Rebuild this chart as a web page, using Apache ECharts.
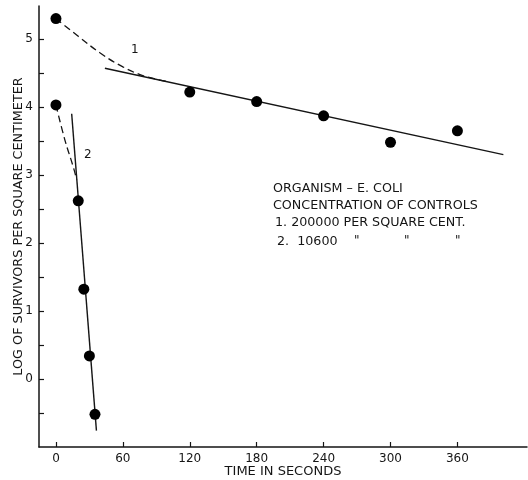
<!DOCTYPE html>
<html>
<head>
<meta charset="utf-8">
<script src="https://cdn.jsdelivr.net/npm/echarts@6/dist/echarts.min.js"></script>
<style>html,body{margin:0;padding:0;background:#fff;}#c{width:528px;height:480px;}</style>
</head>
<body>
<div id="c"></div>
<script>
// Data
var times1 = [0, 120, 180, 240, 300, 360];
var logs1 = [5.30, 4.22, 4.08, 3.87, 3.48, 3.65];
var times2 = [0, 20, 25, 30, 35];
var logs2 = [4.03, 2.62, 1.32, 0.34, -0.52];
var fit1X = [43.9, 401.2];
var fit1Y = [4.57, 3.30];
var fit2X = [14.1, 36.3];
var fit2Y = [3.90, -0.76];
var curve1X = [0, 20, 40, 60, 80, 99];
var curve1Y = [5.30, 5.04, 4.79, 4.59, 4.45, 4.38];
var curve2X = [0, 8.1, 15.5, 18.6];
var curve2Y = [4.03, 3.51, 3.12, 2.93];
var xTicks = [0, 60, 120, 180, 240, 300, 360];
var yLabels = [0, 1, 2, 3, 4, 5];
var yTicks = [-0.5, 0, 0.5, 1, 1.5, 2, 2.5, 3, 3.5, 4, 4.5, 5];
var noteLines = ['ORGANISM \u2013 E. COLI', 'CONCENTRATION OF CONTROLS', '1. 200000 PER SQUARE CENT.', '2.  10600'];
var ditto = '"';

function pairs(xs, ys) { return xs.map(function (x, i) { return [x, ys[i]]; }); }

var ink = '#151515';
var font = 'DejaVu Sans';
var chart = echarts.init(document.getElementById('c'));

var graphics = [];
var noteTop = [188, 205, 222, 241];
var noteLeft = [273, 273, 275, 277];
noteLines.forEach(function (t, i) {
  graphics.push({ type: 'text', x: noteLeft[i], y: noteTop[i] - 6,
    style: { text: t, fill: ink, font: '12.7px "' + font + '"' } });
});
[357, 407, 458].forEach(function (x) {
  graphics.push({ type: 'text', x: x - 3, y: 235, style: { text: ditto, fill: ink, font: '12px "' + font + '"' } });
});
graphics.push({ type: 'text', x: 131, y: 44, style: { text: '1', fill: ink, font: '12px "' + font + '"' } });
graphics.push({ type: 'text', x: 84, y: 149, style: { text: '2', fill: ink, font: '12px "' + font + '"' } });

chart.setOption({
  backgroundColor: '#fff',
  animation: false,
  grid: { left: 39, right: 1, top: 6, bottom: 33, containLabel: false, outerBoundsMode: 'none' },
  xAxis: {
    type: 'value', min: -15.2, max: 422.4,
    name: 'TIME IN SECONDS', nameLocation: 'middle', nameGap: 18.5, nameMoveOverlap: false,
    nameTextStyle: { color: ink, fontFamily: font, fontSize: 13 },
    axisLine: { onZero: false, lineStyle: { color: ink, width: 1.5 } },
    axisTick: { inside: true, length: 5, customValues: xTicks, lineStyle: { color: ink, width: 1.2 } },
    axisLabel: { customValues: xTicks, color: ink, fontFamily: font, fontSize: 12, margin: 6 },
    splitLine: { show: false }
  },
  yAxis: {
    type: 'value', min: -1, max: 5.485,
    name: 'LOG OF SURVIVORS PER SQUARE CENTIMETER', nameLocation: 'middle', nameGap: 14, nameMoveOverlap: false,
    nameTextStyle: { color: ink, fontFamily: font, fontSize: 12.8 },
    axisLine: { show: true, onZero: false, lineStyle: { color: ink, width: 1.5 } },
    axisTick: { show: true, inside: true, length: 5, customValues: yTicks, lineStyle: { color: ink, width: 1.2 } },
    axisLabel: { customValues: yLabels, color: ink, fontFamily: font, fontSize: 12, margin: 6 },
    splitLine: { show: false }
  },
  graphic: graphics,
  series: [
    { type: 'line', data: pairs(fit1X, fit1Y), symbol: 'none', lineStyle: { color: ink, width: 1.4 } },
    { type: 'line', data: pairs(fit2X, fit2Y), symbol: 'none', lineStyle: { color: ink, width: 1.4 } },
    { type: 'line', data: pairs(curve1X, curve1Y), smooth: 0.4, symbol: 'none', lineStyle: { color: ink, width: 1.3, type: [7, 4] } },
    { type: 'line', data: pairs(curve2X, curve2Y), smooth: 0.4, symbol: 'none', lineStyle: { color: ink, width: 1.3, type: [7, 4] } },
    { type: 'scatter', z: 5, data: pairs(times1, logs1), symbolSize: 11, itemStyle: { color: '#000', opacity: 1 } },
    { type: 'scatter', z: 5, data: pairs(times2, logs2), symbolSize: 11, itemStyle: { color: '#000', opacity: 1 } }
  ]
});
</script>
</body>
</html>
